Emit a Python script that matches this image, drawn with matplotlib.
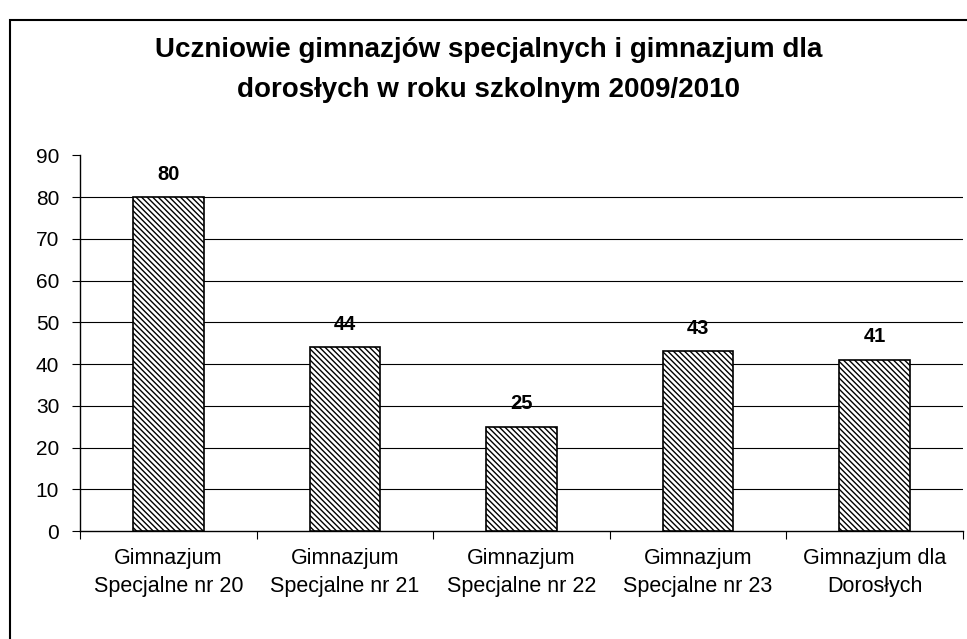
import matplotlib.pyplot as plt
from matplotlib.patches import Rectangle

plt.rcParams['font.family'] = ['Liberation Sans', 'DejaVu Sans']
plt.rcParams['hatch.linewidth'] = 1.0

# data
categories = ['Gimnazjum\nSpecjalne nr 20', 'Gimnazjum\nSpecjalne nr 21',
              'Gimnazjum\nSpecjalne nr 22', 'Gimnazjum\nSpecjalne nr 23',
              'Gimnazjum dla\nDorosłych']
students = [80, 44, 25, 43, 41]
yticks = [0, 10, 20, 30, 40, 50, 60, 70, 80, 90]
title = 'Uczniowie gimnazjów specjalnych i gimnazjum dla\ndorosłych w roku szkolnym 2009/2010'

fig = plt.figure(figsize=(9.67, 6.39), dpi=100)

# outer chart frame (only left and top visible in the scan)
fig.patches.append(Rectangle((0.010, -0.1), 1.2, 0.1 + 0.968, transform=fig.transFigure,
                             fill=False, edgecolor='black', linewidth=1.5))

ax = fig.add_axes([0.0827, 0.169, 0.913, 0.588])
x = range(len(categories))
bars = ax.bar(x, students, width=0.4, color='white', edgecolor='black',
              linewidth=1.2, hatch='\\\\\\\\\\\\', zorder=3)

for v in yticks[1:-1]:
    ax.axhline(v, color='black', linewidth=0.8, zorder=1)

for xi, v in zip(x, students):
    ax.text(xi, v + 3.2, str(v), ha='center', va='bottom',
            fontsize=14.5, fontweight='bold')

ax.set_xlim(-0.5, len(categories) - 0.5)
ax.set_ylim(0, 90)
ax.set_yticks(yticks)
ax.tick_params(axis='y', labelsize=15, length=6, width=0.8, pad=9)

ax.set_xticks(list(x))
ax.set_xticklabels(categories, fontsize=15.5, linespacing=1.45)
ax.set_xticks([i - 0.5 for i in range(len(categories) + 1)], minor=True)
ax.tick_params(axis='x', which='major', length=0, pad=12)
ax.tick_params(axis='x', which='minor', length=6, width=0.8)

ax.spines['top'].set_visible(False)
ax.spines['right'].set_visible(False)
for s in ['left', 'bottom']:
    ax.spines[s].set_linewidth(1.0)

fig.text(0.505, 0.891, title, ha='center', va='center', fontsize=20,
         fontweight='bold', linespacing=1.7)

fig.savefig('out.png', dpi=100)
